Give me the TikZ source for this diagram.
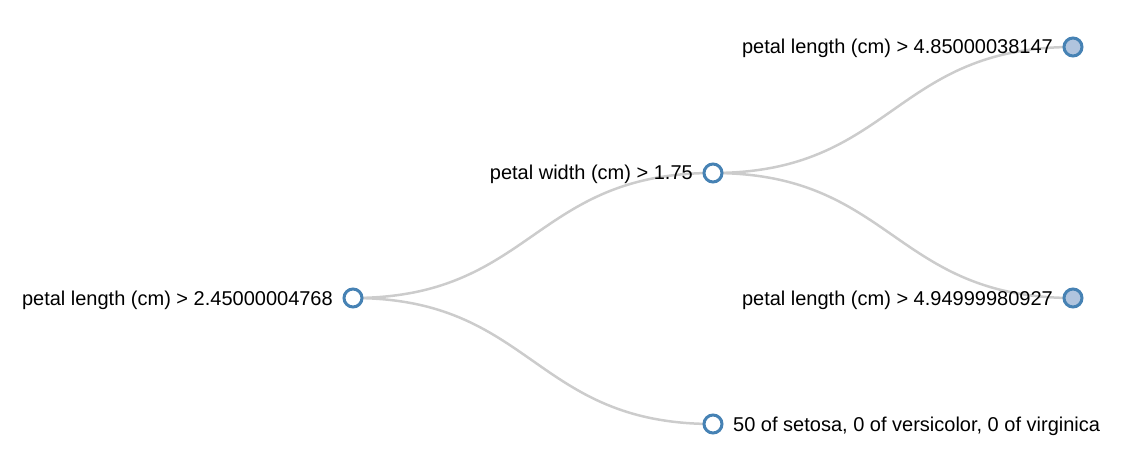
\documentclass[tikz,border=0pt]{standalone}
\usepackage{fontspec}
\setmainfont{Liberation Sans}
\definecolor{linkgray}{HTML}{CCCCCC}
\definecolor{steel}{HTML}{4682B4}
\definecolor{lsteel}{HTML}{B0C4DE}
\tikzset{
  treenode/.style={circle, draw=steel, line width=3pt, fill=white, minimum size=18pt, inner sep=0pt},
  leafnode/.style={treenode, fill=lsteel},
  lbl/.style={font=\fontsize{20}{24}\selectfont, text=black, inner sep=0pt},
  link/.style={draw=linkgray, line width=2.5pt}
}
\begin{document}
\begin{tikzpicture}[x=1pt, y=-1pt]
\useasboundingbox (0,0) rectangle (1128,468);
% node positions
\coordinate (pr) at (353,298);
\coordinate (pm) at (713,173);
\coordinate (pt) at (1073,47);
\coordinate (pb) at (1073,298);
\coordinate (ps) at (713,424);
% links (d3 diagonal)
\draw[link] (pr) .. controls (533,298) and (533,173) .. (pm);
\draw[link] (pr) .. controls (533,298) and (533,424) .. (ps);
\draw[link] (pm) .. controls (893,173) and (893,47) .. (pt);
\draw[link] (pm) .. controls (893,173) and (893,298) .. (pb);
% nodes
\node[treenode] (root) at (pr) {};
\node[treenode] (mid) at (pm) {};
\node[leafnode] (top) at (pt) {};
\node[leafnode] (bot) at (pb) {};
\node[treenode] (setosa) at (ps) {};
% labels
\node[lbl, anchor=base east] (lroot) at (333,305) {petal length (cm) > 2.45000004768};
\node[lbl, anchor=base east] (lmid) at (693,180) {petal width (cm) > 1.75};
\node[lbl, anchor=base east] (ltop) at (1053,54) {petal length (cm) > 4.85000038147};
\node[lbl, anchor=base east] (lbot) at (1053,305) {petal length (cm) > 4.94999980927};
\node[lbl, anchor=base west] (lset) at (733,431) {50 of setosa, 0 of versicolor, 0 of virginica};
\end{tikzpicture}
\end{document}
